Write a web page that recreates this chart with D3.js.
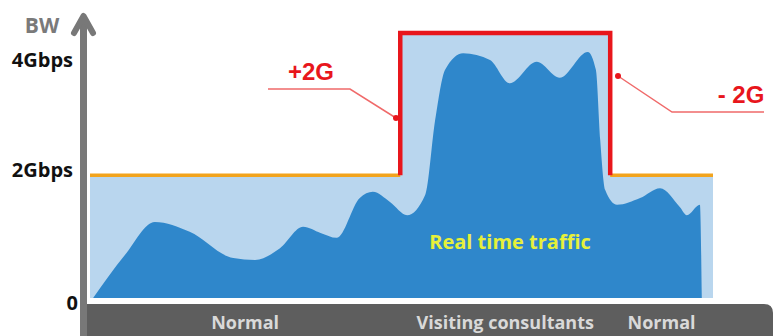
<html>
<meta http-equiv="Content-type" content="text/html;charset=UTF-8">
<head>
<title>Bandwidth on demand</title>
<script src="https://d3js.org/d3.v7.min.js"></script>
<style>
    body { margin: 0; background: #fff; font-family: 'Open Sans', sans-serif; }
</style>
</head>
<body>
<div id="chart"></div>

<script type="text/javascript">
    // ***** DATA *****
    // time runs 0..100, bandwidth in Gbps
    var trafficTime  = [0.5, 5.6, 10.4, 16, 23, 26.5, 30.5, 34.2, 37, 39.6, 43.3, 45.4, 48.2, 50.9, 53.8, 55.4, 57, 59.9, 64.2, 67.4, 71.7, 75.4, 79.9, 81.2, 81.9, 82.7, 84.6, 88.3, 91.5, 94.7, 95.8, 97.9, 98.2];
    var trafficValue = [0, 0.7, 1.24, 1.08, 0.65, 0.62, 0.81, 1.16, 1.06, 0.98, 1.63, 1.73, 1.56, 1.35, 1.68, 2.9, 3.72, 3.99, 3.88, 3.5, 3.85, 3.59, 4.01, 3.72, 2.57, 1.76, 1.52, 1.63, 1.79, 1.48, 1.35, 1.52, 0];

    // provisioned capacity (step function)
    var capacityTime  = [0, 49.8, 83.5, 100];
    var capacityValue = [2, 4.32, 2, 2];

    var phaseNames = ["Normal", "Visiting consultants", "Normal"];
    var phaseStart = [0, 49.8, 83.5];
    var phaseEnd   = [49.8, 83.5, 100];

    var tickValues = [0, 2, 4];
    var tickLabels = ["0", "2Gbps", "4Gbps"];

    // ***** CHART *****
    var width = 776, height = 336;

    var svg = d3.select('#chart').append('svg')
        .attr('width', width).attr('height', height);

    var x = d3.scaleLinear().domain([0, 100]).range([90, 713]);
    var y = d3.scaleLinear().domain([0, 4.4]).range([298, 28]);

    var capacity = capacityTime.map(function(t, i) { return { t: t, v: capacityValue[i] }; });
    var traffic = trafficTime.map(function(t, i) { return { t: t, v: trafficValue[i] }; });

    // light blue capacity area
    svg.append('path')
        .datum(capacity)
        .attr('fill', '#b9d6ee')
        .attr('d', d3.area().curve(d3.curveStepAfter)
            .x(function(d) { return x(d.t); })
            .y0(y(0))
            .y1(function(d) { return y(d.v); }));

    // real time traffic
    svg.append('path')
        .datum(traffic)
        .attr('fill', '#2f87cb')
        .attr('d', d3.area().curve(d3.curveMonotoneX)
            .x(function(d) { return x(d.t); })
            .y0(y(0))
            .y1(function(d) { return y(d.v); }));

    // orange base line (normal capacity)
    var line = d3.line().x(function(d) { return x(d.t); }).y(function(d) { return y(d.v); });
    [[capacity[0], { t: capacity[1].t, v: capacity[0].v }],
     [capacity[2], capacity[3]]].forEach(function(seg) {
        svg.append('path').datum(seg)
            .attr('fill', 'none').attr('stroke', '#f2a41e').attr('stroke-width', 3.5)
            .attr('d', line);
    });

    // red boost outline
    svg.append('path')
        .datum([{ t: capacity[1].t, v: capacity[0].v }, capacity[1],
                { t: capacity[2].t, v: capacity[1].v }, capacity[2]])
        .attr('fill', 'none').attr('stroke', '#e8161c').attr('stroke-width', 4.5)
        .attr('stroke-linejoin', 'miter')
        .attr('d', line);

    // bottom phase bar
    var barTop = 304;
    svg.append('path')
        .attr('fill', '#5e5e5e')
        .attr('d', 'M80,' + barTop + 'H764Q773,' + barTop + ' 773,' + (barTop + 9) + 'V' + height + 'H80Z');

    svg.selectAll('.phase')
        .data(phaseNames)
        .enter().append('text')
        .attr('x', function(d, i) { return x((phaseStart[i] + phaseEnd[i]) / 2); })
        .attr('y', 329)
        .attr('text-anchor', 'middle')
        .attr('fill', '#d9d9d9')
        .attr('font-size', 18).attr('font-weight', 'bold')
        .text(function(d) { return d; });

    // y axis arrow
    svg.append('line')
        .attr('x1', 83.5).attr('x2', 83.5).attr('y1', 17).attr('y2', height)
        .attr('stroke', '#787878').attr('stroke-width', 7);
    svg.append('path')
        .attr('d', 'M74,33 L83.5,16 L93,33')
        .attr('fill', 'none').attr('stroke', '#787878').attr('stroke-width', 6)
        .attr('stroke-linecap', 'round').attr('stroke-linejoin', 'round');

    svg.append('text')
        .attr('x', 42).attr('y', 33).attr('text-anchor', 'middle')
        .attr('fill', '#7a7a7a').attr('font-size', 21).attr('font-weight', 'bold')
        .text('BW');

    // tick labels sit a little below their value
    var tickShift = [12, 2, 14];
    var tickRight = [78, 73, 73];
    svg.selectAll('.tick')
        .data(tickValues)
        .enter().append('text')
        .attr('x', function(d, i) { return tickRight[i]; })
        .attr('y', function(d, i) { return y(d) + tickShift[i]; })
        .attr('text-anchor', 'end')
        .attr('fill', '#111').attr('font-size', 20).attr('font-weight', 'bold')
        .text(function(d, i) { return tickLabels[i]; });

    // annotations
    svg.append('text')
        .attr('x', 311).attr('y', 80).attr('text-anchor', 'middle')
        .attr('fill', '#e8161c').attr('font-family', 'Liberation Sans, Arial, sans-serif')
        .attr('font-size', 24).attr('font-weight', 'bold')
        .text('+2G');
    svg.append('polyline')
        .attr('points', '268,89 350,89 396,118')
        .attr('fill', 'none').attr('stroke', '#f06a6a').attr('stroke-width', 1.5);
    svg.append('circle').attr('cx', 396).attr('cy', 118).attr('r', 3).attr('fill', '#e8161c');

    svg.append('text')
        .attr('x', 741).attr('y', 103).attr('text-anchor', 'middle')
        .attr('fill', '#e8161c').attr('font-family', 'Liberation Sans, Arial, sans-serif')
        .attr('font-size', 24).attr('font-weight', 'bold')
        .text('- 2G');
    svg.append('polyline')
        .attr('points', '618,76 672,112 764,112')
        .attr('fill', 'none').attr('stroke', '#f06a6a').attr('stroke-width', 1.5);
    svg.append('circle').attr('cx', 618).attr('cy', 76).attr('r', 3).attr('fill', '#e8161c');

    svg.append('text')
        .attr('x', 510).attr('y', 249).attr('text-anchor', 'middle')
        .attr('fill', '#e6f03a').attr('font-size', 20).attr('font-weight', 'bold')
        .text('Real time traffic');
</script>
</body>
</html>
